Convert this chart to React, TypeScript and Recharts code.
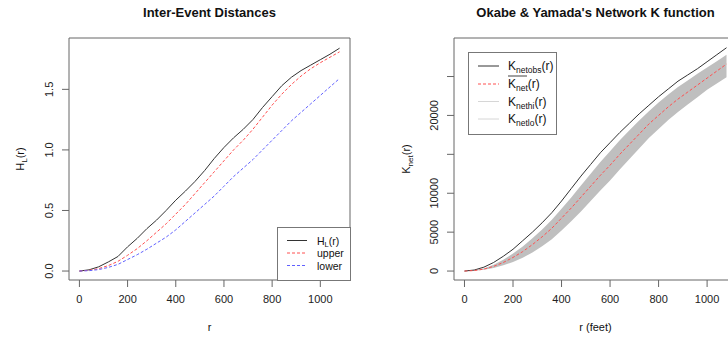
import { ComposedChart, Line, Area, XAxis, YAxis, ReferenceArea, Legend } from "recharts";

// distances r (same grid for both panels)
const rValues = [0, 40, 80, 120, 160, 200, 240, 280, 320, 360, 400, 440, 480, 520, 560, 600, 640, 680, 720, 760, 800, 840, 880, 920, 960, 1000, 1040, 1080];

// left panel: inter-event distances H_L(r) with envelope
const hObs = [0, 0.01, 0.035, 0.075, 0.12, 0.2, 0.27, 0.35, 0.42, 0.5, 0.585, 0.66, 0.74, 0.83, 0.93, 1.02, 1.1, 1.17, 1.25, 1.35, 1.44, 1.53, 1.6, 1.655, 1.7, 1.745, 1.79, 1.84];
const hUpper = [0, 0.006, 0.02, 0.045, 0.08, 0.13, 0.185, 0.25, 0.32, 0.39, 0.47, 0.55, 0.64, 0.73, 0.82, 0.91, 1.0, 1.08, 1.17, 1.27, 1.37, 1.46, 1.54, 1.61, 1.67, 1.72, 1.765, 1.81];
const hLower = [0, 0.003, 0.012, 0.03, 0.055, 0.095, 0.135, 0.18, 0.23, 0.28, 0.34, 0.41, 0.48, 0.55, 0.62, 0.7, 0.78, 0.85, 0.92, 1.0, 1.08, 1.16, 1.24, 1.31, 1.38, 1.45, 1.52, 1.59];

// right panel: network K function
const kObs = [0, 130, 500, 1100, 1900, 2800, 3900, 5000, 6200, 7500, 9000, 10600, 12200, 13700, 15200, 16500, 17800, 19000, 20200, 21300, 22400, 23400, 24400, 25200, 26000, 26900, 27800, 28700];
const kMean = [0, 60, 250, 600, 1100, 1750, 2500, 3400, 4400, 5500, 6800, 8100, 9500, 10900, 12300, 13600, 15000, 16300, 17600, 18900, 20000, 21100, 22100, 23000, 23900, 24800, 25700, 26600];
const kHi = [0, 90, 340, 800, 1450, 2250, 3150, 4200, 5350, 6600, 8000, 9450, 11000, 12500, 14000, 15400, 16800, 18100, 19350, 20550, 21650, 22700, 23650, 24500, 25350, 26150, 26950, 27800];
const kLo = [0, 30, 160, 400, 750, 1150, 1700, 2400, 3200, 4100, 5200, 6400, 7650, 9000, 10350, 11650, 13050, 14400, 15750, 17100, 18250, 19400, 20450, 21400, 22350, 23300, 24100, 24900];

const xTicks = [0, 200, 400, 600, 800, 1000];
const hTicks = [0, 0.5, 1, 1.5];
const kTicks = [0, 5000, 10000, 15000, 20000, 25000];
const kHiddenLabels = [15000, 25000];

const leftData = rValues.map((r, i) => ({ r, obs: hObs[i], upper: hUpper[i], lower: hLower[i] }));
const rightData = rValues.map((r, i) => ({ r, obs: kObs[i], mean: kMean[i], band: [kLo[i], kHi[i]] }));

const FONT = '"Liberation Sans", Arial, sans-serif';
const AXIS = "#666";
const X_DOMAIN = [-43.2, 1123.2];
const H_DOMAIN = [-0.074, 1.924];
const K_DOMAIN = [-1150, 29950];

function RotTick(props: any) {
  const { x, y, payload, format } = props;
  const label = format ? format(payload.value) : String(payload.value);
  if (!label) return null;
  const px = x - 9;
  return (
    <text x={px} y={y} transform={`rotate(-90, ${px}, ${y})`} textAnchor="middle" fontSize={11} fontFamily={FONT} fill="#222">
      {label}
    </text>
  );
}

function LeftLegend() {
  const rows = [
    { y: 13.5, color: "#333", dash: undefined, text: "" },
    { y: 26, color: "#ff5050", dash: "3 2", text: "upper" },
    { y: 38.5, color: "#6060ff", dash: "3 2", text: "lower" },
  ];
  return (
    <svg width={74} height={54} style={{ display: "block" }}>
      <rect x={0.5} y={0.5} width={73} height={53} fill="#fff" stroke="#777" />
      {rows.map((row, i) => (
        <g key={i}>
          <line x1={10} x2={30} y1={row.y} y2={row.y} stroke={row.color} strokeDasharray={row.dash} />
          <text x={40} y={row.y + 4} fontSize={10.5} fontFamily={FONT} fill="#111">
            {i === 0 ? (
              <>
                H<tspan fontSize={7.5} dy={2}>L</tspan>
                <tspan dy={-2}>(r)</tspan>
              </>
            ) : (
              row.text
            )}
          </text>
        </g>
      ))}
    </svg>
  );
}

function RightLegend() {
  const rows = [
    { y: 14, color: "#333", dash: undefined, sub: "netobs" },
    { y: 32, color: "#ff5050", dash: "3 2", sub: "net" },
    { y: 49.5, color: "#d6d6d6", dash: undefined, sub: "nethi" },
    { y: 67, color: "#d6d6d6", dash: undefined, sub: "netlo" },
  ];
  return (
    <svg width={89} height={83} style={{ display: "block" }}>
      <rect x={0.5} y={0.5} width={88} height={82} fill="#fff" stroke="#777" />
      {rows.map((row, i) => (
        <g key={i}>
          <line x1={10} x2={31} y1={row.y} y2={row.y} stroke={row.color} strokeDasharray={row.dash} />
          <text x={40} y={row.y + 4} fontSize={12} fontFamily={FONT} fill="#111">
            K<tspan fontSize={8.5} dy={3}>{row.sub}</tspan>
            <tspan dy={-3}>(r)</tspan>
          </text>
          {i === 1 && <line x1={40} x2={59} y1={row.y - 8} y2={row.y - 8} stroke="#111" strokeWidth={0.8} />}
        </g>
      ))}
    </svg>
  );
}

const titleStyle = (left: number, width: number): any => ({
  position: "absolute",
  left,
  width,
  top: 6,
  textAlign: "center",
  fontFamily: FONT,
  fontWeight: "bold",
  fontSize: 13,
  lineHeight: "13px",
  color: "#111",
});

export default function App() {
  return (
    <div style={{ position: "absolute", left: 0, top: 0, width: 728, height: 340, overflow: "hidden", background: "#fff" }}>
      <div style={{ position: "absolute", left: 0, top: 0 }}>
        <ComposedChart width={364} height={340} data={leftData} margin={{ top: 38, right: 14, bottom: 0, left: 0 }}>
          <XAxis
            type="number"
            dataKey="r"
            domain={X_DOMAIN}
            ticks={xTicks}
            allowDataOverflow
            height={60}
            axisLine={false}
            tickSize={7}
            tickMargin={8}
            tickLine={{ stroke: AXIS }}
            tick={{ fontSize: 11, fontFamily: FONT, fill: "#222" }}
            label={{
              content: (p: any) => (
                <text x={p.viewBox.x + p.viewBox.width / 2} y={331} textAnchor="middle" fontSize={11} fontFamily={FONT} fill="#111">
                  r
                </text>
              ),
            }}
          />
          <YAxis
            type="number"
            domain={H_DOMAIN}
            ticks={hTicks}
            allowDataOverflow
            width={69}
            axisLine={false}
            tickSize={7}
            tickMargin={0}
            tickLine={{ stroke: AXIS }}
            tick={<RotTick format={(v: number) => v.toFixed(1)} />}
            label={{
              content: () => (
                <text x={24} y={159} transform="rotate(-90, 24, 159)" textAnchor="middle" fontSize={11} fontFamily={FONT} fill="#111">
                  H<tspan fontSize={8} dy={3}>L</tspan>
                  <tspan dy={-3}>(r)</tspan>
                </text>
              ),
            }}
          />
          <ReferenceArea x1={X_DOMAIN[0]} x2={X_DOMAIN[1]} y1={H_DOMAIN[0]} y2={H_DOMAIN[1]} fill="none" stroke={AXIS} strokeWidth={1} />
          <Line type="linear" dataKey="obs" stroke="#333" strokeWidth={1} dot={false} isAnimationActive={false} />
          <Line type="linear" dataKey="upper" stroke="#ff5050" strokeWidth={1} strokeDasharray="3 2" dot={false} isAnimationActive={false} />
          <Line type="linear" dataKey="lower" stroke="#6060ff" strokeWidth={1} strokeDasharray="3 2" dot={false} isAnimationActive={false} />
          <Legend
            layout="horizontal"
            verticalAlign="middle"
            align="center"
            wrapperStyle={{ position: "absolute", left: 277, top: 227, width: 74, height: 54 }}
            content={<LeftLegend />}
          />
        </ComposedChart>
      </div>
      <div style={titleStyle(69, 281)}>Inter-Event Distances</div>

      <div style={{ position: "absolute", left: 364, top: 0 }}>
        <ComposedChart width={400} height={340} data={rightData} margin={{ top: 38, right: 27, bottom: 0, left: 0 }}>
          <XAxis
            type="number"
            dataKey="r"
            domain={X_DOMAIN}
            ticks={xTicks}
            allowDataOverflow
            height={60}
            axisLine={false}
            tickSize={7}
            tickMargin={8}
            tickLine={{ stroke: AXIS }}
            tick={{ fontSize: 11, fontFamily: FONT, fill: "#222" }}
            label={{
              content: (p: any) => (
                <text x={p.viewBox.x + p.viewBox.width / 2} y={331} textAnchor="middle" fontSize={11} fontFamily={FONT} fill="#111">
                  r (feet)
                </text>
              ),
            }}
          />
          <YAxis
            type="number"
            domain={K_DOMAIN}
            ticks={kTicks}
            allowDataOverflow
            width={90}
            axisLine={false}
            tickSize={7}
            tickMargin={0}
            tickLine={{ stroke: AXIS }}
            tick={<RotTick format={(v: number) => (kHiddenLabels.includes(v) ? "" : String(v))} />}
            label={{
              content: () => (
                <text x={46} y={159} transform="rotate(-90, 46, 159)" textAnchor="middle" fontSize={11} fontFamily={FONT} fill="#111">
                  K<tspan fontSize={8} dy={3}>net</tspan>
                  <tspan dy={-3}>(r)</tspan>
                </text>
              ),
            }}
          />
          <ReferenceArea x1={X_DOMAIN[0]} x2={X_DOMAIN[1]} y1={K_DOMAIN[0]} y2={K_DOMAIN[1]} fill="none" stroke={AXIS} strokeWidth={1} />
          <Area type="linear" dataKey="band" fill="#bfbfbf" fillOpacity={1} stroke="none" isAnimationActive={false} />
          <Line type="linear" dataKey="obs" stroke="#333" strokeWidth={1} dot={false} isAnimationActive={false} />
          <Line type="linear" dataKey="mean" stroke="#ff5050" strokeWidth={1} strokeDasharray="3 2" dot={false} isAnimationActive={false} />
          <Legend
            layout="horizontal"
            verticalAlign="middle"
            align="center"
            wrapperStyle={{ position: "absolute", left: 104, top: 52, width: 89, height: 83 }}
            content={<RightLegend />}
          />
        </ComposedChart>
      </div>
      <div style={titleStyle(454, 283)}>Okabe &amp; Yamada's Network K function</div>
    </div>
  );
}
